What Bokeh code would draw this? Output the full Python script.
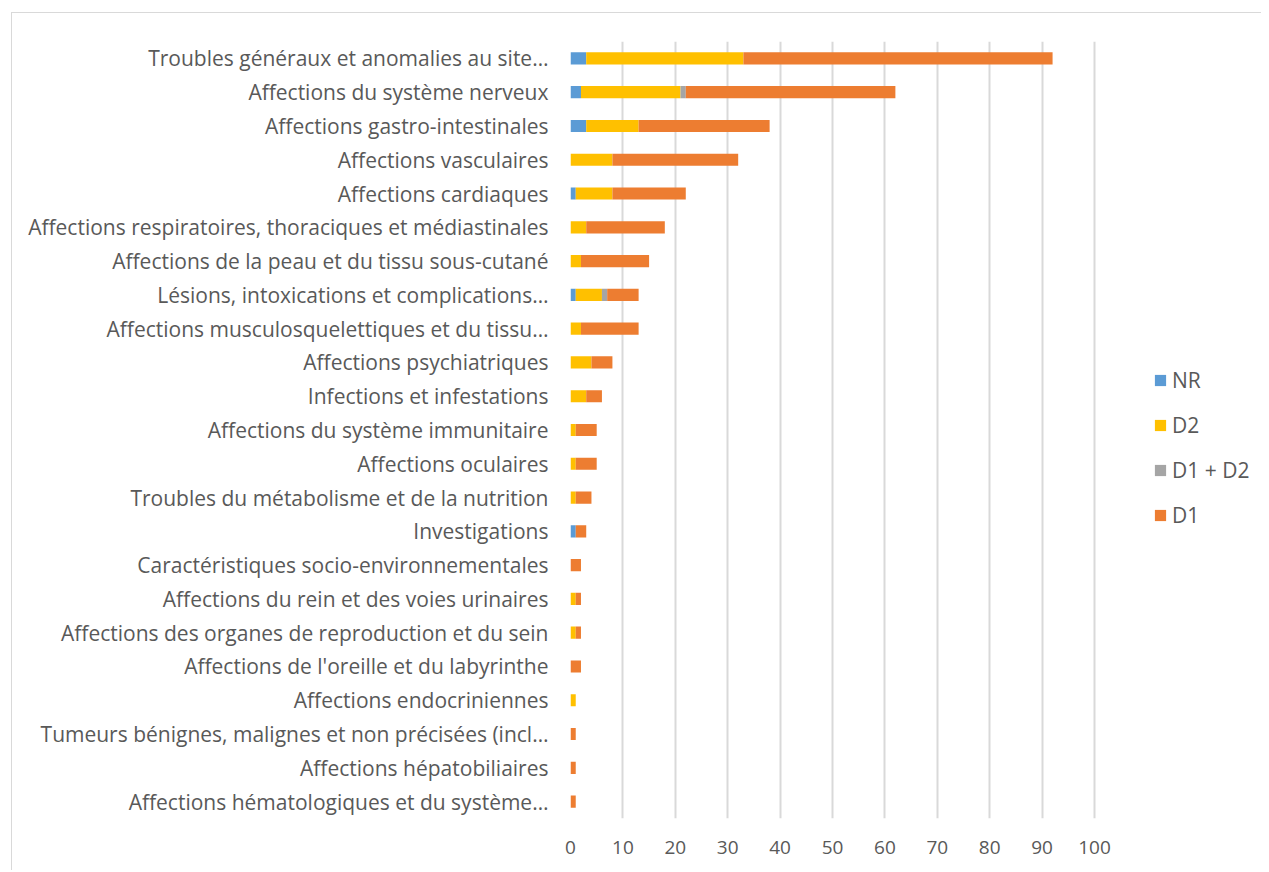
from bokeh.plotting import figure
from bokeh.models import Range1d, Legend, LegendItem, ColumnDataSource, FixedTicker
from bokeh.embed import file_html
from bokeh.resources import INLINE

categories = [
    "Troubles généraux et anomalies au site…",
    "Affections du système nerveux",
    "Affections gastro-intestinales",
    "Affections vasculaires",
    "Affections cardiaques",
    "Affections respiratoires, thoraciques et médiastinales",
    "Affections de la peau et du tissu sous-cutané",
    "Lésions, intoxications et complications…",
    "Affections musculosquelettiques et du tissu…",
    "Affections psychiatriques",
    "Infections et infestations",
    "Affections du système immunitaire",
    "Affections oculaires",
    "Troubles du métabolisme et de la nutrition",
    "Investigations",
    "Caractéristiques socio-environnementales",
    "Affections du rein et des voies urinaires",
    "Affections des organes de reproduction et du sein",
    "Affections de l'oreille et du labyrinthe",
    "Affections endocriniennes",
    "Tumeurs bénignes, malignes et non précisées (incl…",
    "Affections hépatobiliaires",
    "Affections hématologiques et du système…",
]
NR = [3, 2, 3, 0, 1, 0, 0, 1, 0, 0, 0, 0, 0, 0, 1, 0, 0, 0, 0, 0, 0, 0, 0]
D2 = [30, 19, 10, 8, 7, 3, 2, 5, 2, 4, 3, 1, 1, 1, 0, 0, 1, 1, 0, 1, 0, 0, 0]
D1_D2 = [0, 1, 0, 0, 0, 0, 0, 1, 0, 0, 0, 0, 0, 0, 0, 0, 0, 0, 0, 0, 0, 0, 0]
D1 = [59, 40, 25, 24, 14, 15, 13, 6, 11, 4, 3, 4, 4, 3, 2, 2, 1, 1, 2, 0, 1, 1, 1]
series_names = ["NR", "D2", "D1 + D2", "D1"]
x_ticks = [0, 10, 20, 30, 40, 50, 60, 70, 80, 90, 100]

colors = ["#5B9BD5", "#FFC000", "#A5A5A5", "#ED7D31"]
FONT = "Open Sans"
TXT = "#595959"

W, H = 1250, 858
LEFT, TOP, BOTTOM = 558, 28, 53
FRAME_AXIS_W = 524  # pixels spanned by 0..100 on the value axis
x_end = 100 * (W - LEFT) / FRAME_AXIS_W  # frame extends to the right edge to hold the legend

source = ColumnDataSource(dict(cat=categories, NR=NR, D2=D2, D1_D2=D1_D2, D1=D1))

p = figure(width=W, height=H, y_range=list(reversed(categories)),
           x_range=Range1d(0, x_end), output_backend="svg", toolbar_location=None,
           min_border_left=LEFT, min_border_right=0, min_border_top=TOP,
           min_border_bottom=BOTTOM)
p.styles = {"margin-left": "11px", "margin-top": "12px",
            "border-top": "1px solid #d9d9d9", "border-left": "1px solid #d9d9d9"}

renderers = p.hbar_stack(["NR", "D2", "D1_D2", "D1"], y="cat", height=0.36,
                         color=colors, source=source, line_width=0)

p.outline_line_color = None
p.ygrid.grid_line_color = None
p.xgrid.grid_line_color = "#d9d9d9"
p.xgrid.grid_line_width = 2
p.xaxis.ticker = FixedTicker(ticks=x_ticks)
p.xgrid.ticker = FixedTicker(ticks=x_ticks)

for ax in (p.xaxis[0], p.yaxis[0]):
    ax.axis_line_color = None
    ax.major_tick_line_color = None
    ax.minor_tick_line_color = None
    ax.major_label_text_font = FONT
    ax.major_label_text_color = TXT
p.yaxis.major_label_text_font_size = "21px"
p.xaxis.major_label_text_font_size = "19px"
p.yaxis.major_label_standoff = 16
p.xaxis.major_label_standoff = 16

legend = Legend(items=[LegendItem(label=n, renderers=[r]) for n, r in zip(series_names, renderers)],
                location=(583, 289), orientation="vertical")
legend.glyph_width = 14
legend.glyph_height = 14
legend.label_text_font = FONT
legend.label_text_font_size = "21px"
legend.label_text_color = TXT
legend.label_standoff = 5
legend.spacing = 17
legend.padding = 0
legend.margin = 0
legend.border_line_color = None
legend.background_fill_alpha = 0
p.add_layout(legend, "center")

open("out.html", "w").write(file_html(p, INLINE))
